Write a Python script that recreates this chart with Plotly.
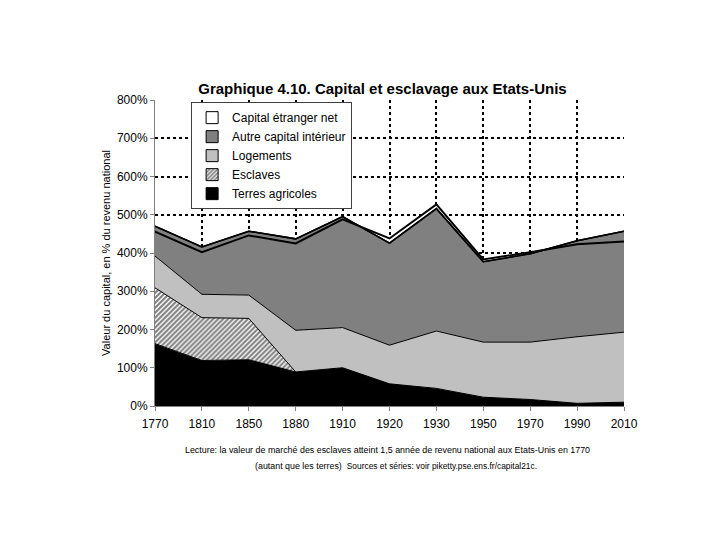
import numpy as np
import plotly.graph_objects as go

# ---- data (% of national income) ----
years = ['1770', '1810', '1850', '1880', '1910', '1920', '1930', '1950', '1970', '1990', '2010']
terres_agricoles = [163, 119, 121, 89, 100, 58, 46, 23, 17, 7, 10]
esclaves = [146, 112, 108, 0, 0, 0, 0, 0, 0, 0, 0]
logements = [83, 61, 61, 109, 105, 101, 150, 144, 150, 174, 183]
autre_capital = [78, 124, 167, 239, 290, 267, 320, 210, 231, 251, 264]
capital_etranger = [-14, -14, -11, -12, -7, 12, 11, 6, 4, -9, -27]

y_ticks = [0, 100, 200, 300, 400, 500, 600, 700, 800]

# ---- cumulative stacks ----
c1 = np.array(terres_agricoles, dtype=float)
c2 = c1 + np.array(esclaves)
c3 = c2 + np.array(logements)
c4 = c3 + np.array(autre_capital)
f = np.array(capital_etranger, dtype=float)
c5_pos = c4 + np.clip(f, 0, None)
c5 = c4 + f

FONT = "Liberation Sans, Arial, sans-serif"
hatch = dict(shape='/', fgcolor='black', bgcolor='white', size=3.5, solidity=0.6)

fig = go.Figure()
common = dict(x=years, mode='lines', showlegend=False, hoverinfo='skip')
fig.add_trace(go.Scatter(y=c1, fill='tozeroy', fillcolor='black',
                         line=dict(color='black', width=1), **common))
fig.add_trace(go.Scatter(y=c2, fill='tonexty', fillcolor='white', fillpattern=hatch,
                         line=dict(color='black', width=1), **common))
fig.add_trace(go.Scatter(y=c3, fill='tonexty', fillcolor='#c0c0c0',
                         line=dict(color='black', width=1), **common))
fig.add_trace(go.Scatter(y=c4, fill='tonexty', fillcolor='#808080',
                         line=dict(color='black', width=1.5), **common))
fig.add_trace(go.Scatter(y=c5_pos, fill='tonexty', fillcolor='white',
                         line=dict(color='rgba(0,0,0,0)', width=0), **common))
fig.add_trace(go.Scatter(y=c4, line=dict(color='black', width=1.5), **common))
fig.add_trace(go.Scatter(y=c5, line=dict(color='black', width=2), **common))

# ---- legend entries ----
legend_items = [
    ('Capital étranger net', dict(color='white')),
    ('Autre capital intérieur', dict(color='#808080')),
    ('Logements', dict(color='#c0c0c0')),
    ('Esclaves', dict(color='white', pattern=hatch)),
    ('Terres agricoles', dict(color='black')),
]
for name, mk in legend_items:
    mk = dict(mk)
    mk['line'] = dict(color='black', width=1)
    fig.add_trace(go.Bar(x=[None], y=[None], name=name, marker=mk,
                         legendgroup=name, hoverinfo='skip'))

grid = dict(showgrid=True, gridcolor='black', griddash='dot', gridwidth=1.5,
            showline=True, linecolor='#808080', linewidth=1,
            ticks='outside', ticklen=4, tickcolor='#808080', automargin=False,
            tickfont=dict(family=FONT, size=12, color='black'), zeroline=False)

fig.update_layout(
    width=720, height=540,
    margin=dict(l=147, r=104, t=92, b=142),
    paper_bgcolor='white', plot_bgcolor='white',
    font=dict(family=FONT, color='black'),
    title=dict(text='<b>Graphique 4.10. Capital et esclavage aux Etats-Unis</b>',
               x=0.485, xref='paper', xanchor='center',
               y=1 - 81 / 540, yanchor='middle',
               font=dict(family=FONT, size=15, color='black')),
    xaxis=dict(type='category', categoryorder='array', categoryarray=years,
               range=[0, len(years) - 1], ticklabelstandoff=3, **grid),
    yaxis=dict(range=[0, 800], tickvals=y_ticks,
               ticktext=[f'{v}%' for v in y_ticks],
               title=dict(text='Valeur du capital, en % du revenu national',
                          font=dict(family=FONT, size=11, color='black'), standoff=4),
               **grid),
    legend=dict(x=0.077, y=0.993, xanchor='left', yanchor='top',
                bgcolor='white', bordercolor='#404040', borderwidth=1,
                font=dict(family=FONT, size=12, color='black'),
                traceorder='grouped', tracegroupgap=0, itemwidth=30),
    showlegend=True,
    annotations=[
        dict(text='Lecture: la valeur de marché des esclaves atteint 1,5 année de revenu national aux Etats-Unis en 1770',
             xref='paper', yref='paper', x=0.496, y=-0.144, showarrow=False,
             xanchor='center', yanchor='middle',
             font=dict(family=FONT, size=8.9, color='black')),
        dict(text="(autant que les terres)  <span style='font-size:8.4px'>Sources et séries: voir piketty.pse.ens.fr/capital21c.</span>",
             xref='paper', yref='paper', x=0.514, y=-0.196, showarrow=False,
             xanchor='center', yanchor='middle',
             font=dict(family=FONT, size=8.9, color='black')),
    ],
)

fig.write_html("out.html")
